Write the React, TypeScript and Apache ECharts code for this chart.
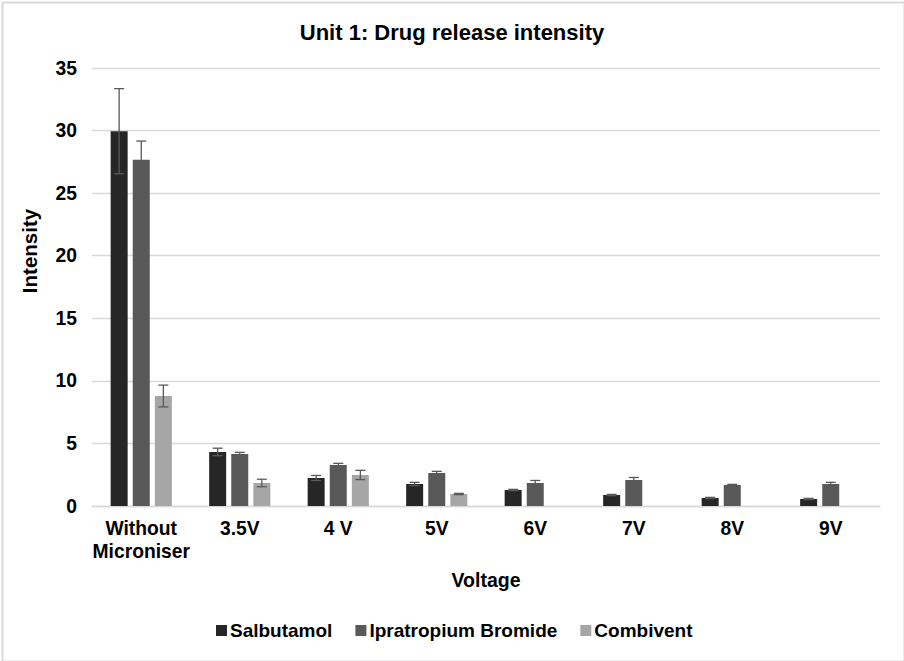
import React, { useEffect, useRef } from "react";
import * as echarts from "echarts";

const categories = ["Without\nMicroniser", "3.5V", "4 V", "5V", "6V", "7V", "8V", "9V"];
const seriesNames = ["Salbutamol", "Ipratropium Bromide", "Combivent"];
const salbutamol = [29.95, 4.32, 2.24, 1.76, 1.28, 0.88, 0.64, 0.56];
const salbutamolErr = [3.4, 0.3, 0.2, 0.13, 0.05, 0.05, 0.05, 0.05];
const ipratropium = [27.66, 4.16, 3.28, 2.64, 1.84, 2.08, 1.68, 1.76];
const ipratropiumErr = [1.5, 0.13, 0.13, 0.13, 0.2, 0.2, 0.05, 0.13];
const combivent = [8.79, 1.84, 2.48, 0.96, 0, 0, 0, 0];
const combiventErr = [0.87, 0.3, 0.37, 0.05, 0, 0, 0, 0];
const colors = ["#262626", "#595959", "#a6a6a6"];
const yTicks = { min: 0, max: 35, interval: 5 };

const FONT = "'Liberation Sans', Arial, sans-serif";
const BAR_W = 17;
const BAR_GAP = 0.3;

export default function App() {
  const ref = useRef<HTMLDivElement>(null);
  useEffect(() => {
    if (!ref.current) return;
    const chart = echarts.init(ref.current, null, { renderer: "svg" });
    const values = [salbutamol, ipratropium, combivent];
    const errs = [salbutamolErr, ipratropiumErr, combiventErr];

    const barSeries = values.map((v, i) => ({
      name: seriesNames[i],
      type: "bar",
      data: v,
      barWidth: BAR_W,
      barGap: BAR_GAP * 100 + "%",
      itemStyle: { color: colors[i] },
      z: 2,
    }));

    const errSeries = values.map((v, i) => ({
      type: "custom",
      name: seriesNames[i] + " err",
      data: v
        .map((val, k) => (errs[i][k] > 0 ? [k, val - errs[i][k], val + errs[i][k]] : null))
        .filter((d) => d !== null),
      z: 10,
      silent: true,
      renderItem: (params: any, api: any) => {
        const idx = api.value(0);
        const lo = api.coord([idx, api.value(1)]);
        const hi = api.coord([idx, api.value(2)]);
        const off = (i - 1) * BAR_W * (1 + BAR_GAP);
        const x = lo[0] + off;
        const cap = 5;
        const style = { stroke: "#595959", lineWidth: 1.3 };
        return {
          type: "group",
          children: [
            { type: "line", shape: { x1: x, y1: lo[1], x2: x, y2: hi[1] }, style },
            { type: "line", shape: { x1: x - cap, y1: lo[1], x2: x + cap, y2: lo[1] }, style },
            { type: "line", shape: { x1: x - cap, y1: hi[1], x2: x + cap, y2: hi[1] }, style },
          ],
        };
      },
    }));

    chart.setOption({
      animation: false,
      backgroundColor: "#ffffff",
      textStyle: { fontFamily: FONT },
      title: {
        text: "Unit 1: Drug release intensity",
        left: "center",
        top: 16,
        textStyle: { fontFamily: FONT, fontSize: 22, fontWeight: "bold", color: "#000" },
      },
      grid: { left: 92, right: 24, top: 68, bottom: 155, containLabel: false },
      legend: {
        data: seriesNames,
        bottom: 16,
        left: 211,
        itemWidth: 11,
        itemHeight: 11,
        itemGap: 23,
        icon: "rect",
        textStyle: { fontFamily: FONT, fontSize: 19, fontWeight: "bold", color: "#000", padding: [0, 0, 0, -2] },
      },
      xAxis: {
        type: "category",
        data: categories,
        name: "Voltage",
        nameLocation: "middle",
        nameGap: 64,
        nameTextStyle: { fontFamily: FONT, fontSize: 19.5, fontWeight: "bold", color: "#000" },
        axisLine: { lineStyle: { color: "#d9d9d9", width: 1.3 } },
        axisTick: { show: false },
        axisLabel: {
          fontFamily: FONT,
          fontSize: 19.3,
          fontWeight: "bold",
          color: "#000",
          margin: 11,
          lineHeight: 23,
          interval: 0,
        },
      },
      yAxis: {
        type: "value",
        min: yTicks.min,
        max: yTicks.max,
        interval: yTicks.interval,
        axisLine: { show: false },
        axisTick: { show: false },
        splitLine: { lineStyle: { color: "#d9d9d9", width: 1.3 } },
        axisLabel: {
          fontFamily: FONT,
          fontSize: 19.3,
          fontWeight: "bold",
          color: "#000",
          margin: 15,
        },
      },
      graphic: [
        {
          type: "rect",
          left: 0,
          top: 0,
          shape: { x: 1, y: 1, width: 902, height: 659 },
          style: { fill: "none", stroke: "#d9d9d9", lineWidth: 2 },
          silent: true,
        },
        {
          type: "text",
          x: 29,
          y: 251,
          rotation: Math.PI / 2,
          style: {
            text: "Intensity",
            fontFamily: FONT,
            fontSize: 20.5,
            fontWeight: "bold",
            fill: "#000",
            align: "center",
            verticalAlign: "middle",
          },
        },
      ],
      series: [...barSeries, ...errSeries],
    });
    return () => chart.dispose();
  }, []);
  return (
    <div
      ref={ref}
      style={{ position: "absolute", left: 0, top: 0, width: 904, height: 661 }}
    />
  );
}
